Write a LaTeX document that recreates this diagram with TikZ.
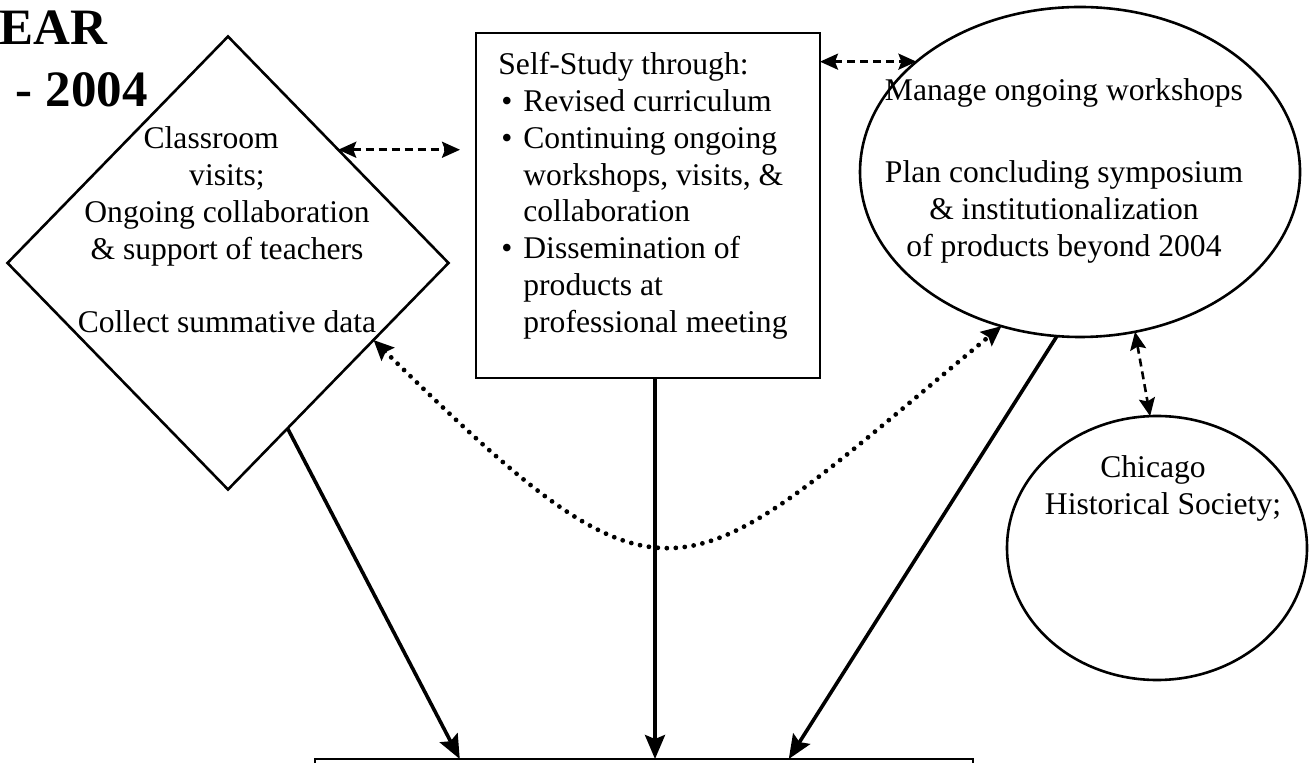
\documentclass[tikz,border=0pt]{standalone}
\usepackage{fontspec}
\setmainfont{Liberation Serif}
\usepackage{tikz}
\usetikzlibrary{shapes.geometric,arrows.meta,calc}

\newcommand{\bodyfont}{\fontsize{15.8pt}{18.4pt}\selectfont}
\newcommand{\itm}{\makebox[12.5pt][l]{\hspace{1.5pt}\textbullet}}
\newcommand{\ind}{\hspace*{12.5pt}}

\begin{document}
\begin{tikzpicture}[x=0.5pt,y=-0.5pt,
   outline/.style={draw,line width=1.3pt,inner sep=0pt,outer sep=0pt},
   box/.style={outline,rectangle},
   kite/.style={outline,diamond},
   oval/.style={outline,ellipse},
   txt/.style={font=\bodyfont,inner sep=0pt},
   title/.style={font=\fontsize{25.5pt}{30pt}\selectfont\bfseries,inner sep=0pt},
   flow/.style={-{Stealth[length=12pt,width=10pt,inset=2pt]},line width=1.8pt},
   dashlink/.style={{Stealth[length=9pt,width=8pt,inset=1.5pt]}-{Stealth[length=9pt,width=8pt,inset=1.5pt]},
    line width=1.3pt,dash pattern=on 4pt off 2.5pt},
   dotlink/.style={{Stealth[length=10pt,width=9pt,inset=1.5pt]}-{Stealth[length=10pt,width=9pt,inset=1.5pt]},
    line width=2.4pt,line cap=round,dash pattern=on 0pt off 4.5pt}
    ]
  \useasboundingbox (0,0) rectangle (1310,763);

  % -- year heading
  \node[title,anchor=base east] (yr) at (108,45) {EAR};
  \node[title,anchor=base east] (span) at (148,107) {- 2004};

  % -- shapes
  \node[kite,minimum width=220.5pt,minimum height=226.5pt] (kite) at (228,263) {};
  \node[box,minimum width=172pt,minimum height=172.5pt] (box) at (648,205.5) {};
  \node[oval,minimum width=220pt,minimum height=165pt] (ell1) at (1080,172) {};
  \node[oval,minimum width=150pt,minimum height=132pt] (ell2) at (1157,548) {};
  \node[box,minimum width=329pt,minimum height=60pt,anchor=north west] (outcome) at (315,759) {};

  % -- texts
  \node[txt,align=center] (visittext) at (227,230) {Classroom\hspace*{1em}\\
    visits;\hspace*{1em}\\ Ongoing collaboration\\ \& support of teachers\\[18.4pt]
    Collect summative data};
  \node[txt,align=left,anchor=north west] (studytext) at (498,52) {Self-Study through:\\
    \itm Revised curriculum\\
    \itm Continuing ongoing\\
    \ind workshops, visits, \&\\
    \ind collaboration\\
    \itm Dissemination of\\
    \ind products at\\
    \ind professional meeting};
  \node[txt,align=center,anchor=north] (plantext) at (1064,78.5) {Manage ongoing workshops\\[22.6pt]
    Plan concluding symposium\\ \& institutionalization\hspace*{12pt}\\ of products beyond 2004};
  \node[txt,align=center,anchor=north] (chstext) at (1163,455) {Chicago\hspace*{10pt}\\ Historical Society;};

  % -- dashed links
  \draw[dashlink] (kite.north east) -- ([xshift=-8pt]box.west |- kite.north east);
  \draw[dashlink] (box.east |- ell1.146) -- (ell1.146);
  \draw[dashlink] (ell1.289) -- (ell2.93);

  % -- dotted link
  \draw[dotlink] ($(kite.south)!0.66!(kite.east)$) .. controls (676,638) and (679,593) .. (ell1.243);

  % -- arrows down
  \draw[flow] ($(kite.south)!0.27!(kite.east)$) -- ($(outcome.north west)!0.22!(outcome.north east)$);
  \draw[flow] ([xshift=3.5pt]box.south) -- ([xshift=3.5pt]box.south |- outcome.north);
  \draw[flow] (ell1.262) -- ($(outcome.north west)!0.72!(outcome.north east)$);

\end{tikzpicture}
\end{document}
